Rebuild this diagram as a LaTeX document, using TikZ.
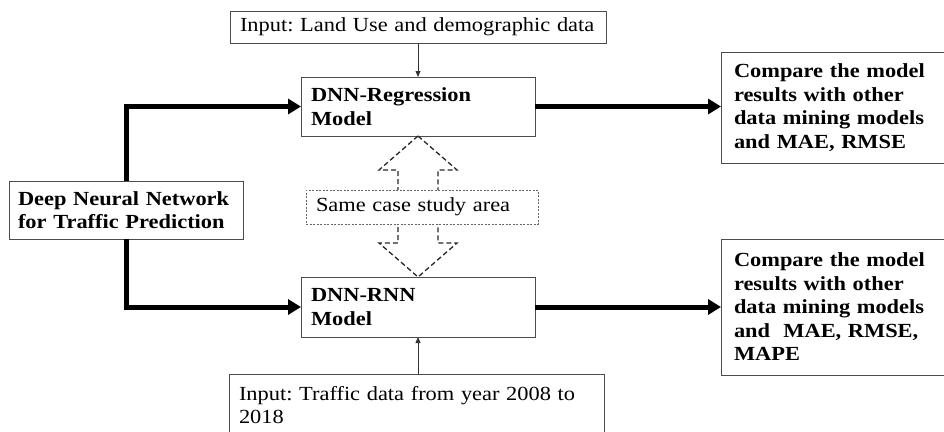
\documentclass[tikz,border=0pt]{standalone}
\usepackage{fontspec}
\setmainfont{Liberation Serif}[FakeStretch=1.12]
\usetikzlibrary{arrows.meta,calc}
\tikzset{
  box/.style={draw=black!70, line width=1pt, fill=white, anchor=north west, align=left,
    inner xsep=10pt, inner ysep=0pt, outer sep=0pt, font=\fontsize{20}{23.5}\selectfont},
  bbox/.style={box, font=\fontsize{20}{23.5}\selectfont\bfseries},
  samebox/.style={box, draw=black!60, line width=0.8pt, dash pattern=on 2pt off 1.5pt},
  fatarrow/.style={line width=5pt, -{Triangle[length=13pt,width=15pt]}},
  thinarrow/.style={line width=0.8pt, draw=black!80, -{Triangle[length=6pt,width=5pt]}},
  dasharrow/.style={line width=1.3pt, draw=black!85, dash pattern=on 5pt off 3pt},
}
\begin{document}
\frenchspacing
\begin{tikzpicture}[x=1pt,y=-1pt]
\useasboundingbox (0,0) rectangle (944,431);
\node[box, minimum width=376pt, minimum height=32pt, text width=356pt] (inA) at (230,11)
  {Input: Land Use and demographic data};
\node[bbox, minimum width=234pt, minimum height=59pt, text width=214pt] (reg) at (301,77)
  {DNN-Regression\\Model};
\node[bbox, minimum width=234pt, minimum height=60pt, text width=214pt] (rnn) at (301,277)
  {DNN-RNN\\Model};
\node[bbox, inner xsep=9pt, minimum width=234pt, minimum height=58pt, text width=216pt] (dnn) at (9,181)
  {Deep Neural Network\\for Traffic Prediction};
\node[bbox, inner xsep=13pt, minimum width=240pt, minimum height=111pt, text width=214pt] (r1) at (721,52)
  {Compare the model\\results with other\\data mining models\\and MAE, RMSE};
\node[bbox, inner xsep=13pt, minimum width=240pt, minimum height=136pt, text width=214pt] (r2) at (721,239)
  {Compare the model\\results with other\\data mining models\\and~ MAE, RMSE,\\MAPE};
\node[box, inner ysep=12pt, minimum width=375pt, text width=355pt] (inB) at (229,374)
  {Input: Traffic data from year 2008 to\\2018\\~};

% dashed double arrow between the two models
\draw[dasharrow] (reg.south) -- ($(reg.south)+(39,34)$) -- ($(reg.south)+(20,34)$)
  -- ($(rnn.north)+(20,-34)$) -- ($(rnn.north)+(39,-34)$) -- (rnn.north)
  -- ($(rnn.north)+(-39,-34)$) -- ($(rnn.north)+(-20,-34)$)
  -- ($(reg.south)+(-20,34)$) -- ($(reg.south)+(-39,34)$) -- cycle;
\node[samebox, minimum width=232pt, minimum height=34pt, text width=212pt] (same) at (306,190)
  {Same case study area};

\draw[fatarrow] (dnn.north) |- (reg.west);
\draw[fatarrow] (dnn.south) |- (rnn.west);
\draw[fatarrow] (reg.east) -- (reg.east -| r1.west);
\draw[fatarrow] (rnn.east) -- (rnn.east -| r2.west);
\draw[thinarrow] (inA.south -| reg.north) -- (reg.north);
\draw[thinarrow] (inB.north -| rnn.south) -- (rnn.south);
\end{tikzpicture}
\end{document}
